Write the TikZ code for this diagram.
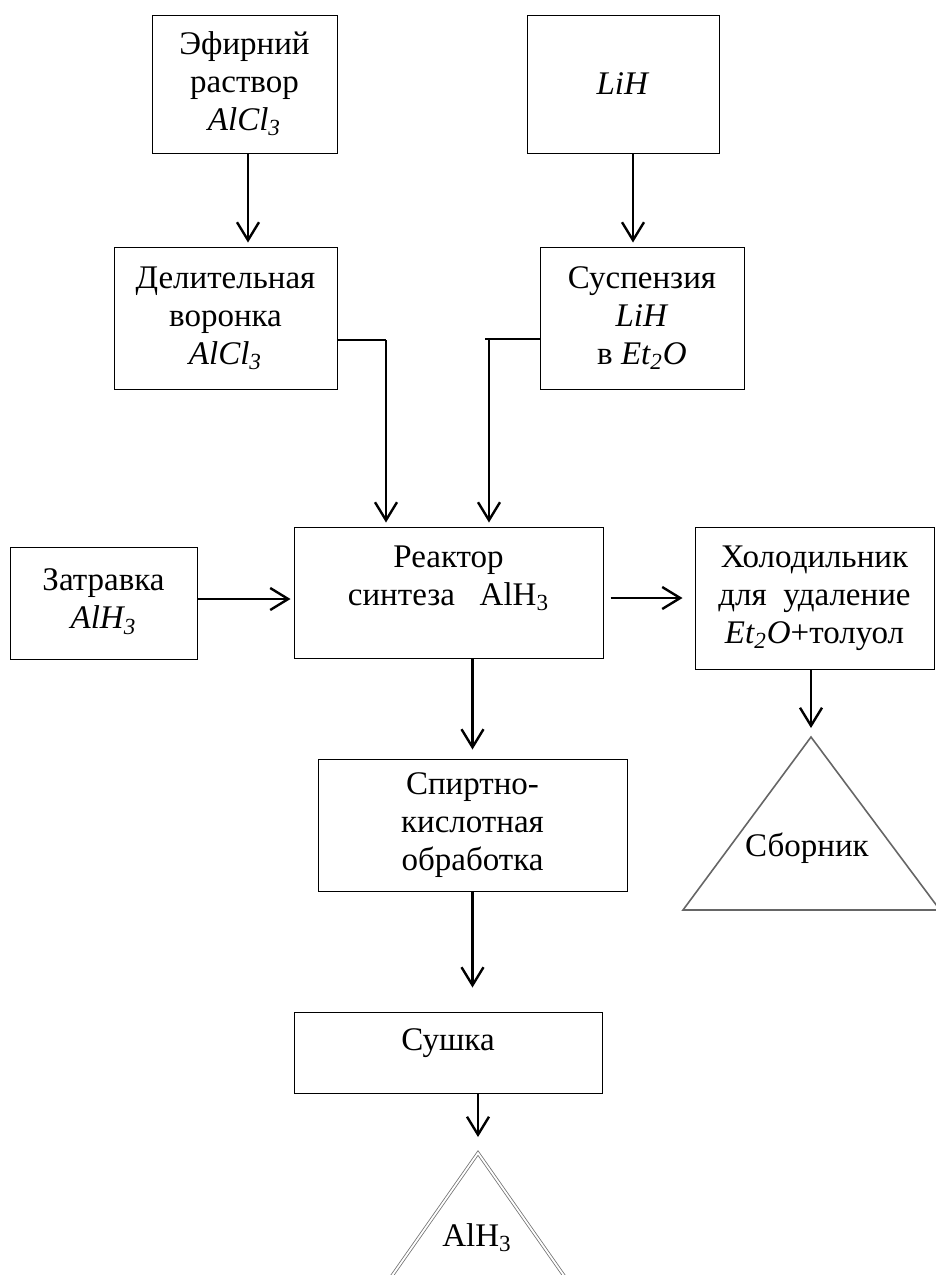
\documentclass[tikz,border=0pt]{standalone}
\usepackage{fontspec}
\setmainfont{Liberation Serif}
\usepackage{tikz}
\usetikzlibrary{arrows.meta,calc}
\tikzset{
	blk/.style={draw, line width=0.5pt, inner sep=0pt, align=center,
		font=\fontsize{16.5pt}{19pt}\selectfont},
	lbl/.style={inner sep=0pt, align=center, font=\fontsize{16.5pt}{19pt}\selectfont},
	arr/.style={line width=1.2pt, -{Straight Barb[length=9pt, width=11pt]}},
	lnk/.style={line width=0.6pt},
	tri/.style={draw=black!60, line width=0.8pt, line join=miter},
	trid/.style={draw=black!55, double=white, double distance=0.9pt, line width=0.4pt},
}
\begin{document}
\begin{tikzpicture}[x=0.5pt, y=-0.5pt]
				\useasboundingbox (0,0) rectangle (936,1275);
				\node[blk, minimum width=92.5pt, minimum height=69pt] at (244.5,84) (efir) {Эфирний\\раствор\\\textit{AlCl\textsubscript{3}}};
				\node[blk, minimum width=96pt, minimum height=69pt] at (623,84) (lih) {\textit{LiH}};
				\node[blk, minimum width=111.5pt, minimum height=71pt] at (225.5,318) (delit) {Делительная\\воронка\\\textit{AlCl\textsubscript{3}}};
				\node[blk, minimum width=102pt, minimum height=71pt] at (642,318) (susp) {Суспензия\\\textit{LiH}\\в \textit{Et\textsubscript{2}O}};
				\node[blk, minimum width=93.5pt, minimum height=56pt] at (103.5,603) (zatr) {Затравка\\\textit{AlH\textsubscript{3}}\\[-15pt]\mbox{}};
				\node[blk, minimum width=154.5pt, minimum height=65.5pt] at (448.5,592.5) (reak) {Реактор\\синтеза~~~AlH\textsubscript{3}\\[-2pt]\mbox{}};
				\node[blk, minimum width=119.5pt, minimum height=71pt] at (814.5,598) (khol) {Холодильник\\для~~удаление\\\textit{Et\textsubscript{2}O}+толуол};
				\node[blk, minimum width=154.5pt, minimum height=66pt] at (472.5,825) (spirt) {Спиртно-\\кислотная\\обработка};
				\node[blk, minimum width=154pt, minimum height=40.5pt] at (448,1052.5) (sush) {Сушка\\[-6pt]\mbox{}};
				\coordinate (topA) at (811,737);
				\coordinate (topB) at (478,1153);
				\draw[tri] (topA) -- (683,910) -- (940,910) -- cycle;
				\node[lbl] at (807,848) (sborn) {Сборник};
				\draw[trid] (topB) -- (375,1300) -- (581,1300) -- cycle;
				\node[lbl] at (477,1238) (prod) {AlH\textsubscript{3}};
				\coordinate (jl) at (386,340);
				\coordinate (jr) at (489,339);
				\draw[arr, shorten >=2pt] ([xshift=1.75pt]efir.south) -- ([xshift=1.75pt]efir.south |- delit.north);
				\draw[arr, shorten >=2pt] ([xshift=5pt]lih.south) -- ([xshift=5pt]lih.south |- susp.north);
				\draw[lnk] (delit.east |- jl) -- (jl);
				\draw[arr, shorten >=2pt] (jl) -- (jl |- reak.north);
				\draw[lnk] (susp.west |- jr) -- ($(jr)+(-4,0)$);
				\draw[arr, shorten >=2pt] (jr) -- (jr |- reak.north);
				\draw[arr, shorten >=1.5pt] ([yshift=2pt]zatr.east) -- ([yshift=2pt]zatr.east -| reak.west);
				\draw[arr, shorten <=3.5pt, shorten >=6pt] (reak.east |- khol.west) -- (khol.west);
				\draw[arr, shorten >=4.5pt] (reak.south -| spirt.north) -- (spirt.north);
				\draw[arr, shorten >=12pt] (spirt.south) -- (spirt.south |- sush.north);
				\draw[arr, shorten >=4.5pt] (khol.south -| topA) -- (topA);
				\draw[arr, shorten >=8pt] (sush.south -| topB) -- (topB);
			\end{tikzpicture}
\end{document}
